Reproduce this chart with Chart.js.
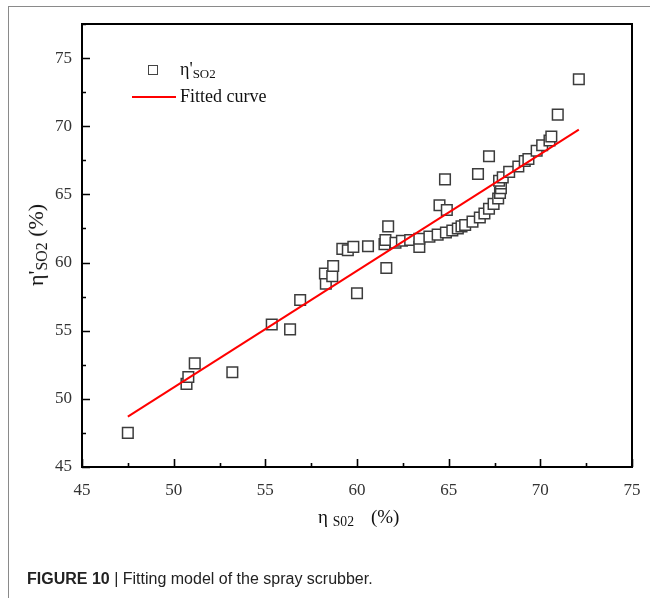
<!DOCTYPE html>
<html>
<head>
<meta charset="utf-8">
<script src="https://cdn.jsdelivr.net/npm/chart.js@4.4.1/dist/chart.umd.min.js"></script>
<style>
  body { margin: 0; background: #fff; }
  #wrap { position: relative; width: 650px; height: 598px; overflow: hidden; }
  #frame { position: absolute; left: 8px; top: 6px; width: 650px; height: 600px;
           border-top: 1px solid #8a8a8a; border-left: 1px solid #8a8a8a; }
  canvas { position: absolute; left: 0; top: 0; }
  .serif { position: absolute; font-family: "Liberation Serif", "Times New Roman", serif; color: #111; white-space: nowrap; }
  .serif sub { font-size: 0.72em; vertical-align: -0.25em; }
  #lgSq { position: absolute; left: 148px; top: 65px; width: 8px; height: 8px; border: 1.5px solid #444; }
  #lgLn { position: absolute; left: 132px; top: 96px; width: 44px; height: 2px; background: #ff0000; }
  #caption { position: absolute; left: 27px; top: 570px; font-family: "Liberation Sans", Arial, sans-serif;
             font-size: 16px; color: #222; white-space: nowrap; }
</style>
</head>
<body>
<div id="wrap">
  <div id="frame"></div>
  <canvas id="chart" width="650" height="598"></canvas>
  <div id="lgSq"></div>
  <div class="serif" style="left:180px; top:59px; font-size:18px;">η'<sub>SO2</sub></div>
  <div id="lgLn"></div>
  <div class="serif" style="left:180px; top:86px; font-size:18px;">Fitted curve</div>
  <div class="serif" style="left:318px; top:506px; font-size:19px;">η <sub>S02</sub><span style="margin-left:17px">(%)</span></div>
  <div class="serif" style="left:37px; top:245px; font-size:22px; transform: translate(-50%, -50%) rotate(-90deg);">η'<sub>SO2</sub> (%)</div>
  <div id="caption"><b>FIGURE 10</b> | Fitting model of the spray scrubber.</div>
</div>
<script>
// measured points: eta_SO2 (x) vs eta'_SO2 (y)
const etaX = [47.5, 50.7, 50.8, 51.15, 53.2, 55.35, 56.35, 56.9, 58.3, 58.25, 58.65, 58.7,
  59.2, 59.5, 59.8, 60.0, 60.6, 61.5, 61.55, 61.7, 61.6, 62.1, 62.45, 62.9, 63.4, 63.4,
  63.95, 64.4, 64.5, 64.8, 64.85, 64.9, 65.2, 65.5, 65.7, 65.9, 66.3, 66.6, 66.7, 66.95,
  67.2, 67.2, 67.45, 67.7, 67.8, 67.85, 67.85, 67.75, 67.95, 68.3, 68.8, 69.15, 69.35,
  69.8, 70.1, 70.5, 70.6, 70.95, 72.1];
const etaY = [47.5, 51.1, 51.6, 52.6, 51.95, 55.45, 55.1, 57.25, 58.45, 59.2, 59.0, 59.75,
  61.0, 60.9, 61.15, 57.75, 61.2, 61.35, 61.65, 62.65, 59.6, 61.45, 61.6, 61.65, 61.15, 61.75,
  61.9, 62.05, 64.2, 66.1, 62.2, 63.85, 62.35, 62.5, 62.65, 62.75, 63.0, 66.5, 63.3, 63.6,
  63.95, 67.8, 64.3, 64.7, 65.1, 65.45, 65.8, 66.0, 66.25, 66.65, 67.05, 67.45, 67.6,
  68.2, 68.6, 68.95, 69.25, 70.85, 73.45];
// fitted line end points
const fitX = [47.5, 72.1];
const fitY = [48.7, 69.75];
const xTicks = [45, 50, 55, 60, 65, 70, 75];
const yTicks = [45, 50, 55, 60, 65, 70, 75];

const tickFont = { family: '"Liberation Serif", "Times New Roman", serif', size: 17 };

// inward tick marks + full box
const axisBox = {
  id: 'axisBox',
  afterDraw(chart) {
    const { ctx, chartArea: a, scales: { x, y } } = chart;
    ctx.save();
    ctx.strokeStyle = '#000';
    ctx.lineWidth = 2;
    ctx.strokeRect(a.left, a.top, a.right - a.left, a.bottom - a.top);
    ctx.lineWidth = 1.6;
    ctx.beginPath();
    for (let v = 45; v <= 75.01; v += 2.5) {
      const len = v % 5 === 0 ? 8 : 4;
      const px = Math.round(x.getPixelForValue(v)) + 0.5;
      ctx.moveTo(px, a.bottom); ctx.lineTo(px, a.bottom - len);
    }
    for (let v = 45; v <= 77.51; v += 2.5) {
      const len = v % 5 === 0 ? 8 : 4;
      const py = Math.round(y.getPixelForValue(v)) + 0.5;
      ctx.moveTo(a.left, py); ctx.lineTo(a.left + len, py);
    }
    ctx.stroke();
    ctx.restore();
  }
};

new Chart(document.getElementById('chart'), {
  type: 'scatter',
  data: {
    datasets: [{
      label: 'Fitted curve',
      type: 'line',
      data: fitX.map((v, i) => ({ x: v, y: fitY[i] })),
      borderColor: '#ff0000',
      borderWidth: 2,
      pointRadius: 0,
      order: 0
    }, {
      label: "η'SO2",
      data: etaX.map((v, i) => ({ x: v, y: etaY[i] })),
      pointStyle: 'rect',
      pointRadius: 7.5,
      borderColor: '#3c3c3c',
      borderWidth: 1.5,
      backgroundColor: '#ffffff',
      order: 1
    }]
  },
  options: {
    responsive: false,
    animation: false,
    layout: { padding: { left: 0, top: 24, right: 18, bottom: 100 } },
    plugins: { legend: { display: false }, tooltip: { enabled: false } },
    scales: {
      x: {
        min: 45, max: 75,
        afterFit: s => { s.height = 31; s.paddingLeft = 0; s.paddingRight = 0; },
        afterBuildTicks: s => { s.ticks = xTicks.map(v => ({ value: v })); },
        grid: { display: false, drawTicks: false },
        border: { display: false },
        ticks: { font: tickFont, color: '#333', padding: 13, maxRotation: 0 }
      },
      y: {
        min: 45, max: 77.5,
        afterFit: s => { s.width = 82; s.paddingTop = 0; s.paddingBottom = 0; },
        afterBuildTicks: s => { s.ticks = yTicks.map(v => ({ value: v })); },
        grid: { display: false, drawTicks: false },
        border: { display: false },
        ticks: { font: tickFont, color: '#333', padding: 10 }
      }
    }
  },
  plugins: [axisBox]
});
</script>
</body>
</html>
